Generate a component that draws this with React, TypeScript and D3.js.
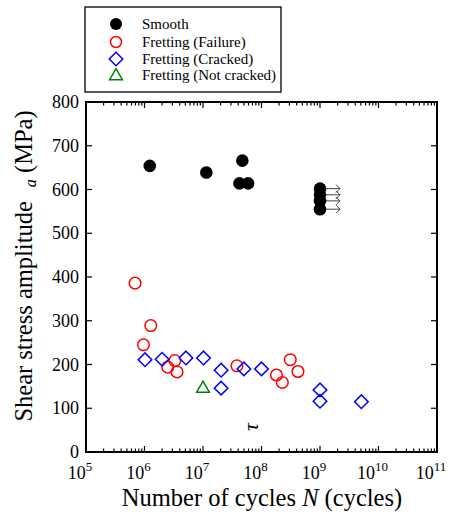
import { useEffect, useRef } from "react";
import * as d3 from "d3";

// cycles to failure (N) and shear stress amplitude (MPa)
const smoothN = [1.23e6, 1.14e7, 4.7e7, 4.2e7, 5.9e7, 1e9, 1e9, 1e9, 1e9];
const smoothS = [654, 639, 666, 614, 614, 602, 588, 574, 555];
const smoothRunout = [false, false, false, false, false, true, true, true, true];

const failureN = [6.9e5, 1.28e6, 9.6e5, 3.3e6, 2.5e6, 3.6e6, 3.8e7, 1.8e8, 2.27e8, 3.1e8, 4.2e8];
const failureS = [386, 289, 245, 209, 194, 183, 197, 176, 159, 211, 184];

const crackedN = [1.02e6, 2.0e6, 5.1e6, 1.02e7, 2.04e7, 2.04e7, 5.0e7, 1.0e8, 1e9, 1e9, 5.1e9];
const crackedS = [211, 212, 215, 215, 187, 146, 190, 190, 142, 116, 115];

const notCrackedN = [1e7];
const notCrackedS = [145];

const xExponents = [5, 6, 7, 8, 9, 10, 11];
const yTicks = [0, 100, 200, 300, 400, 500, 600, 700, 800];

const legendLabels = ["Smooth", "Fretting (Failure)", "Fretting (Cracked)", "Fretting (Not cracked)"];

const FONT = "font-family: 'Liberation Serif', 'Times New Roman', serif";

const App = () => {
  const ref = useRef<SVGSVGElement>(null);

  useEffect(() => {
    const svg = d3.select(ref.current);
    svg.selectAll("*").remove();

    const width = 452;
    const height = 515;
    const left = 86, right = 437, top = 102, bottom = 452;

    svg.attr("width", width).attr("height", height);

    const x = d3.scaleLog().domain([1e5, 1e11]).range([left, right]);
    const y = d3.scaleLinear().domain([0, 800]).range([bottom, top]);

    // ticks
    const ticks = svg.append("g").attr("stroke", "#000").attr("stroke-width", 1.2);
    const minor: number[] = [];
    for (let e = 5; e < 11; e++) for (let m = 2; m <= 9; m++) minor.push(m * Math.pow(10, e));
    ticks.selectAll(".minb").data(minor).join("line")
      .attr("x1", (d) => x(d)).attr("x2", (d) => x(d))
      .attr("y1", bottom).attr("y2", bottom - 3.5);
    ticks.selectAll(".mint").data(minor).join("line")
      .attr("x1", (d) => x(d)).attr("x2", (d) => x(d))
      .attr("y1", top).attr("y2", top + 3.5);
    const major = xExponents.map((e) => Math.pow(10, e));
    ticks.selectAll(".majb").data(major).join("line")
      .attr("x1", (d) => x(d)).attr("x2", (d) => x(d))
      .attr("y1", bottom).attr("y2", bottom - 6);
    ticks.selectAll(".majt").data(major).join("line")
      .attr("x1", (d) => x(d)).attr("x2", (d) => x(d))
      .attr("y1", top).attr("y2", top + 6);
    ticks.selectAll(".yl").data(yTicks).join("line")
      .attr("x1", left).attr("x2", left + 6)
      .attr("y1", (d) => y(d)).attr("y2", (d) => y(d));
    ticks.selectAll(".yr").data(yTicks).join("line")
      .attr("x1", right).attr("x2", right - 6)
      .attr("y1", (d) => y(d)).attr("y2", (d) => y(d));

    // frame
    svg.append("rect")
      .attr("x", left).attr("y", top)
      .attr("width", right - left).attr("height", bottom - top)
      .attr("fill", "none").attr("stroke", "#000").attr("stroke-width", 2);

    // tick labels
    svg.append("g")
      .attr("style", FONT).attr("font-size", 18).attr("text-anchor", "end")
      .selectAll("text").data(yTicks).join("text")
      .attr("x", left - 7).attr("y", (d) => y(d) + 6)
      .text((d) => d);

    const xl = svg.append("g")
      .attr("style", FONT).attr("font-size", 18)
      .selectAll("text").data(xExponents).join("text")
      .attr("x", (d) => x(Math.pow(10, d)) - 6).attr("y", 479)
      .attr("text-anchor", "middle");
    xl.append("tspan").text("10");
    xl.append("tspan").attr("font-size", 13).attr("dy", -8).text((d) => d);

    // axis titles
    const xt = svg.append("text")
      .attr("style", FONT).attr("font-size", 24.5)
      .attr("x", 262).attr("y", 506).attr("text-anchor", "middle");
    xt.append("tspan").text("Number of cycles ");
    xt.append("tspan").attr("font-style", "italic").text("N");
    xt.append("tspan").text(" (cycles)");

    const yt = svg.append("text")
      .attr("style", FONT).attr("font-size", 24.5)
      .attr("transform", `translate(32,266) rotate(-90)`)
      .attr("text-anchor", "middle");
    yt.append("tspan").text("Shear stress amplitude");
    yt.append("tspan").attr("font-style", "italic").attr("font-size", 16).attr("dx", 14).attr("dy", 4).text("a");
    yt.append("tspan").attr("dy", -4).text(" (MPa)");

    // stray tau glyph
    svg.append("text")
      .attr("style", FONT).attr("font-size", 22).attr("font-style", "italic")
      .attr("text-anchor", "middle")
      .attr("transform", `translate(${x(8.7e7)},${y(57)}) rotate(-90)`)
      .text("τ");

    // runout arrows
    const arrowLen = 20;
    const runouts = smoothN.map((n, i) => ({ n, s: smoothS[i] })).filter((d, i) => smoothRunout[i]);
    const arr = svg.append("g").attr("stroke", "#444").attr("stroke-width", 1).attr("fill", "none");
    arr.selectAll("line").data(runouts).join("line")
      .attr("x1", (d) => x(d.n)).attr("x2", (d) => x(d.n) + arrowLen)
      .attr("y1", (d) => y(d.s)).attr("y2", (d) => y(d.s));
    arr.selectAll("path").data(runouts).join("path")
      .attr("d", (d) => {
        const ex = x(d.n) + arrowLen, ey = y(d.s);
        return `M${ex - 4},${ey - 4}L${ex},${ey}L${ex - 4},${ey + 4}`;
      });

    // markers
    const diamond = d3.symbol().type(d3.symbolSquare).size(92)();
    const tri = d3.symbol().type(d3.symbolTriangle).size(70)();

    svg.append("g").selectAll("circle")
      .data(smoothN.map((n, i) => [n, smoothS[i]]))
      .join("circle")
      .attr("cx", (d) => x(d[0])).attr("cy", (d) => y(d[1]))
      .attr("r", 6.3).attr("fill", "#000");

    svg.append("g").selectAll("circle")
      .data(failureN.map((n, i) => [n, failureS[i]]))
      .join("circle")
      .attr("cx", (d) => x(d[0])).attr("cy", (d) => y(d[1]))
      .attr("r", 5.8).attr("fill", "none").attr("stroke", "#ff0000").attr("stroke-width", 1.5);

    svg.append("g").selectAll("path")
      .data(crackedN.map((n, i) => [n, crackedS[i]]))
      .join("path")
      .attr("d", diamond)
      .attr("transform", (d) => `translate(${x(d[0])},${y(d[1])}) rotate(45)`)
      .attr("fill", "none").attr("stroke", "#0000ff").attr("stroke-width", 1.5);

    svg.append("g").selectAll("path")
      .data(notCrackedN.map((n, i) => [n, notCrackedS[i]]))
      .join("path")
      .attr("d", tri)
      .attr("transform", (d) => `translate(${x(d[0])},${y(d[1])})`)
      .attr("fill", "none").attr("stroke", "#008000").attr("stroke-width", 1.5);

    // legend
    const lg = svg.append("g");
    lg.append("rect")
      .attr("x", 85).attr("y", 7).attr("width", 196).attr("height", 85)
      .attr("fill", "#fff").attr("stroke", "#000").attr("stroke-width", 1.3);
    const rows = [24, 42, 59, 75];
    lg.append("circle").attr("cx", 116).attr("cy", rows[0]).attr("r", 6).attr("fill", "#000");
    lg.append("circle").attr("cx", 116).attr("cy", rows[1]).attr("r", 5.5)
      .attr("fill", "none").attr("stroke", "#ff0000").attr("stroke-width", 1.5);
    lg.append("path").attr("d", diamond).attr("transform", `translate(116,${rows[2]}) rotate(45)`)
      .attr("fill", "none").attr("stroke", "#0000ff").attr("stroke-width", 1.5);
    lg.append("path").attr("d", tri).attr("transform", `translate(116,${rows[3] + 1})`)
      .attr("fill", "none").attr("stroke", "#008000").attr("stroke-width", 1.5);
    lg.selectAll("text").data(legendLabels).join("text")
      .attr("style", FONT).attr("font-size", 15)
      .attr("x", 142).attr("y", (d, i) => rows[i] + 5)
      .text((d) => d);
  }, []);

  return (
    <svg ref={ref} style={{ position: "absolute", left: 0, top: 0 }}></svg>
  );
};

export default App;
